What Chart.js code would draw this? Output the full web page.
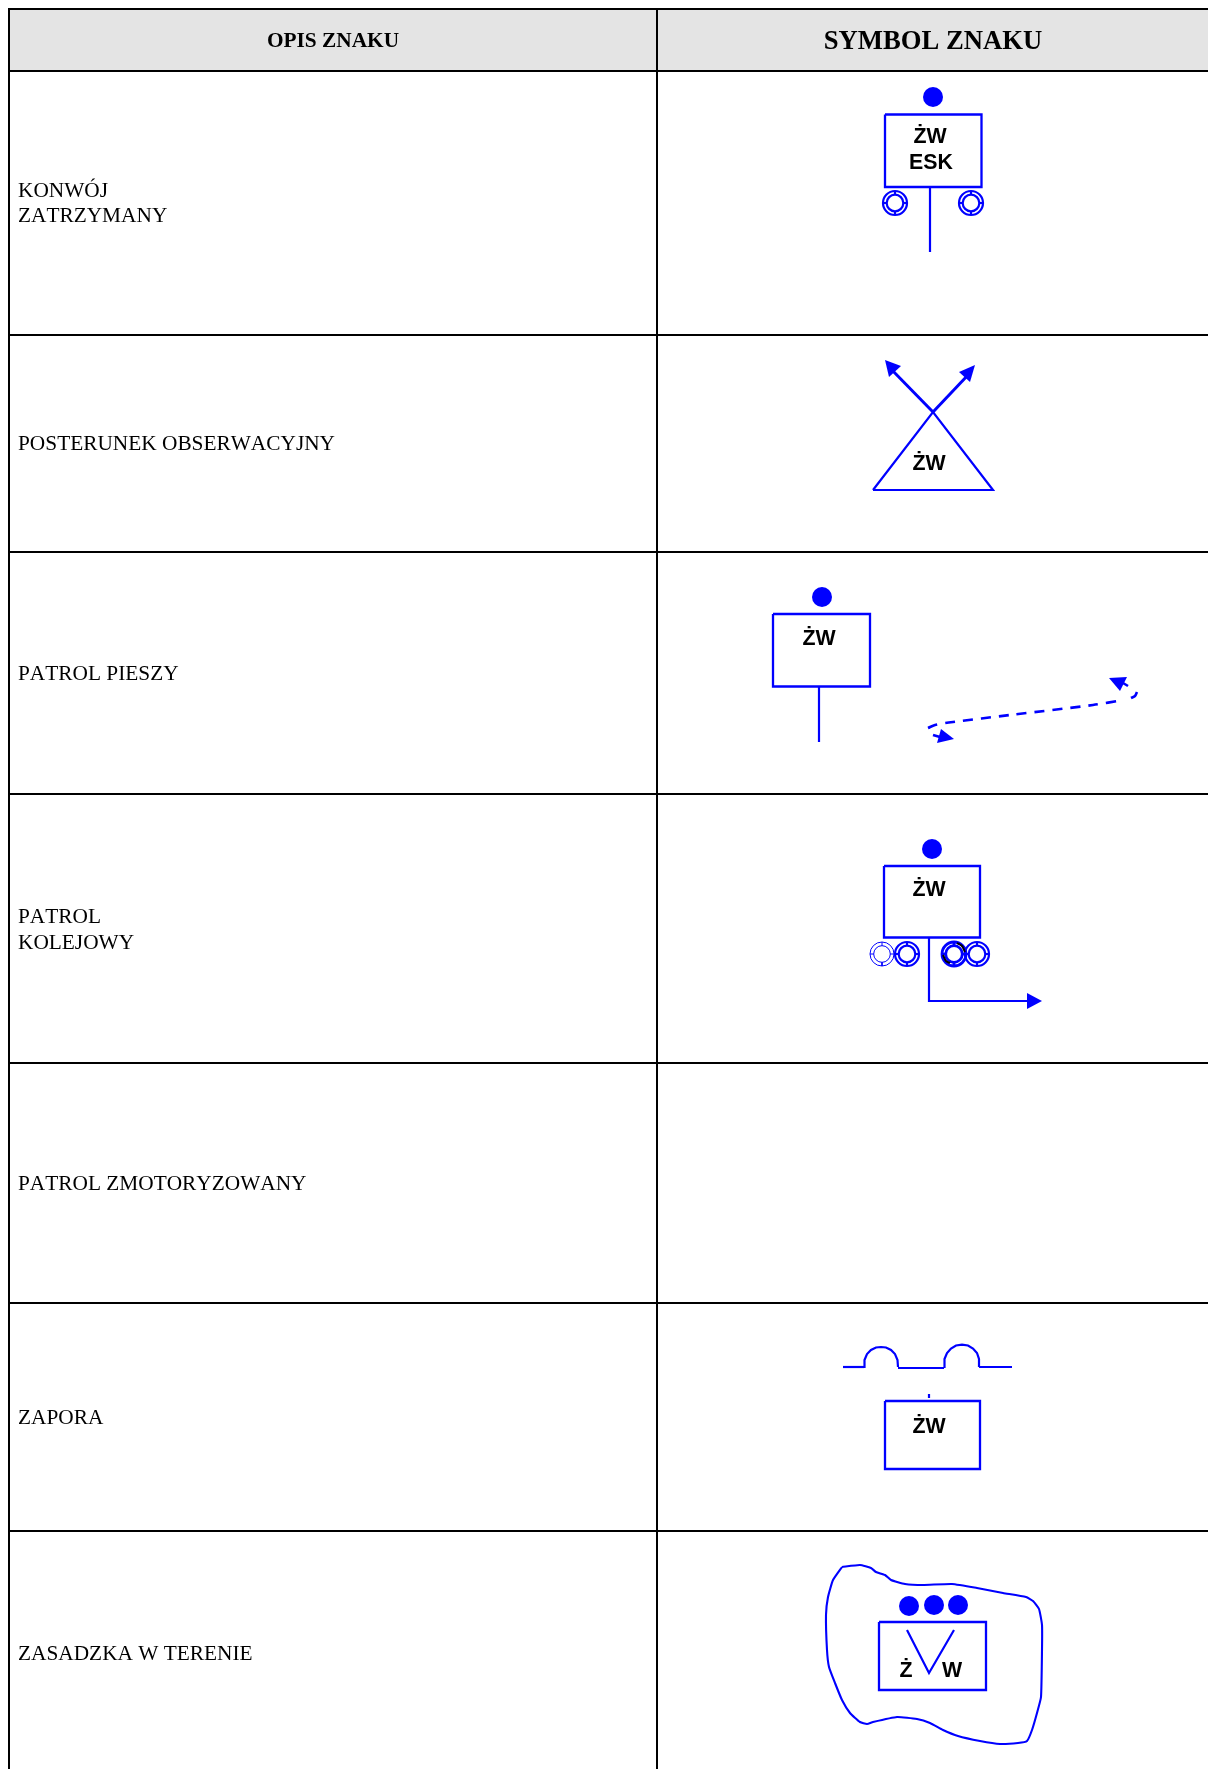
<!DOCTYPE html>
<html lang="pl">
<head>
<meta charset="utf-8">
<title>Opis znaku</title>
<script src="https://cdn.jsdelivr.net/npm/chart.js@4/dist/chart.umd.min.js"></script>
<style>
  html, body { margin: 0; padding: 0; background: #fff; }
  canvas { display: block; }
</style>
</head>
<body>
<canvas id="chart" width="1208" height="1769"></canvas>
<script>
// table
const gridRows = [9, 71, 335, 552, 794, 1063, 1303, 1531];
const gridCols = [9, 657];
const headerLabels = ['OPIS ZNAKU', 'SYMBOL ZNAKU'];
const rowLabels = ['KONWÓJ', 'ZATRZYMANY', 'POSTERUNEK OBSERWACYJNY', 'PATROL PIESZY', 'PATROL', 'KOLEJOWY', 'PATROL ZMOTORYZOWANY', 'ZAPORA', 'ZASADZKA W TERENIE'];
const rowLabelY = [197, 222, 450, 680, 923, 949, 1190, 1424, 1660];

// symbol labels
const symbolLabels = ['ŻW', 'ESK', 'ŻW', 'ŻW', 'ŻW', 'ŻW', 'Ż', 'W'];
const symbolLabelX = [930, 931, 929, 819, 929, 929, 906, 952];
const symbolLabelY = [143, 169, 470, 645, 896, 1433, 1677, 1677];

// filled dots
const dots = [[933, 97], [822, 597], [932, 849], [909, 1606], [934, 1605], [958, 1605]];

// boxes: left, top, right, bottom
const boxes = [[885, 114.5, 981.5, 187], [773, 614, 870, 686.5], [884, 866, 980, 937.5], [885, 1401, 980, 1469], [879, 1622, 986, 1690]];

// wheels
const wheelsNormal = [[895, 203], [971, 203], [907, 954], [977, 954]];
const wheelsThin = [[882, 954]];
const wheelsHeavy = [[954, 954]];

// plain lines
const polylines = [
  [[930, 187], [930, 252]],
  [[873, 490], [993, 490], [933, 412], [873, 490]],
  [[819, 687], [819, 742]],
  [[929, 938], [929, 1001], [1028, 1001]],
  [[843, 1367], [864, 1367]],
  [[898, 1368], [944, 1368]],
  [[979, 1367], [1012, 1367]],
  [[929, 1394], [929, 1398]],
  [[907, 1630], [929, 1673], [954, 1630]]
];
const arrowShafts = [[[933, 412], [890, 368]], [[933, 412], [968, 375]]];
const arrowHeads = [
  [[885, 360], [901, 366], [889, 377]],
  [[975, 365], [959, 372], [970, 382]],
  [[1109, 678], [1127, 677], [1120, 691]],
  [[954, 739], [941, 729], [937, 743]],
  [[1027, 993], [1027, 1009], [1042, 1001]]
];
const arches = [
  [[864, 1367], [864.5, 1360], [867, 1354], [871, 1350], [876, 1347.5], [881, 1347], [886, 1347.5], [891, 1350], [895, 1354], [897.5, 1360], [898, 1367]],
  [[944, 1367], [944.5, 1359], [947, 1353], [951, 1348.5], [956, 1345.5], [962, 1344.7], [968, 1345.5], [973, 1348.5], [977, 1353], [979, 1359], [979, 1367]]
];
const dashedPath = [[928, 728], [935, 725], [953, 722], [1010, 715], [1093, 705], [1123, 700]];
const dashStubs = [[[1128, 686], [1123, 683]], [[933, 735], [940, 737]], [[1131, 698], [1135, 696], [1137, 692]]];
const blackArcs = [[[957, 943], [962, 946], [965, 952]], [[943, 955], [946, 961], [950, 963]]];
const terrainOutline = [
  [842, 1567], [860, 1565], [871, 1568], [876, 1572], [885, 1575], [891, 1580], [905, 1584], [923, 1585],
  [952, 1584], [977, 1588], [1003, 1593], [1026, 1597], [1033, 1601], [1039, 1609], [1042, 1625], [1042, 1650],
  [1041, 1697], [1037, 1713], [1032, 1730], [1027, 1741], [1018, 1743], [1000, 1744], [980, 1741], [958, 1736],
  [943, 1730], [930, 1723], [917, 1719], [897, 1717], [873, 1722], [867, 1724], [860, 1722], [850, 1713],
  [842, 1700], [835, 1683], [829, 1667], [827, 1650], [826, 1615], [828, 1597], [833, 1580], [842, 1567]
];

const BLUE = '#0000ff';
const toXY = pts => pts.map(p => ({ x: p[0], y: p[1] }));

function lineSet(pts, color, width, extra) {
  return Object.assign({
    data: toXY(pts),
    showLine: true,
    borderColor: color,
    borderWidth: width,
    pointRadius: 0,
    fill: false
  }, extra || {});
}

function shapeSet(pts, color, extra) {
  return Object.assign({
    data: toXY(pts),
    showLine: true,
    borderColor: color,
    borderWidth: 0,
    backgroundColor: color,
    pointRadius: 0,
    fill: 'shape'
  }, extra || {});
}

function wheelSets(centers, width) {
  const sets = [12, 8.3].map(r => ({
    data: toXY(centers),
    showLine: false,
    pointStyle: 'circle',
    pointRadius: r,
    pointBorderWidth: width,
    pointBorderColor: BLUE,
    pointBackgroundColor: 'rgba(0,0,0,0)'
  }));
  centers.forEach(c => {
    [[0, -1], [0, 1], [-1, 0], [1, 0]].forEach(d => {
      sets.push(lineSet([[c[0] + d[0] * 8.3, c[1] + d[1] * 8.3], [c[0] + d[0] * 12, c[1] + d[1] * 12]], BLUE, width));
    });
  });
  return sets;
}

const datasets = [];

// header background first, under everything else
datasets.push(shapeSet([[9, 9], [1208, 9], [1208, 71], [9, 71]], '#e4e4e4', { order: 10 }));
gridRows.forEach(y => datasets.push(lineSet([[gridCols[0] - 1, y], [1208, y]], '#000', 2)));
gridCols.forEach(x => datasets.push(lineSet([[x, gridRows[0] - 1], [x, 1769]], '#000', 2)));

datasets.push({
  data: toXY(dots),
  showLine: false,
  pointStyle: 'circle',
  pointRadius: 10,
  pointBorderWidth: 0,
  pointBackgroundColor: BLUE
});
boxes.forEach(b => datasets.push(lineSet([[b[0], b[1]], [b[2], b[1]], [b[2], b[3]], [b[0], b[3]], [b[0], b[1]]], BLUE, 2.3)));
polylines.forEach(p => datasets.push(lineSet(p, BLUE, 2.2)));
arrowShafts.forEach(p => datasets.push(lineSet(p, BLUE, 3)));
arrowHeads.forEach(p => datasets.push(shapeSet(p, BLUE)));
arches.forEach(p => datasets.push(lineSet(p, BLUE, 2.2)));
datasets.push(lineSet(dashedPath, BLUE, 2.6, { tension: 0.3, borderDash: [10, 8] }));
dashStubs.forEach(p => datasets.push(lineSet(p, BLUE, 2.6, { tension: 0.3 })));
datasets.push(lineSet(terrainOutline, BLUE, 2.1, { tension: 0.15 }));
wheelSets(wheelsNormal, 2.2).forEach(s => datasets.push(s));
wheelSets(wheelsThin, 1).forEach(s => datasets.push(s));
wheelSets(wheelsHeavy, 2.8).forEach(s => datasets.push(s));
blackArcs.forEach(p => datasets.push(lineSet(p, '#000', 2, { tension: 0.3, order: -1 })));

// all the text of the table goes through the scales as well
const tableText = {
  id: 'tableText',
  afterDatasetsDraw(chart) {
    const { ctx, scales: { x, y } } = chart;
    ctx.save();
    ctx.fillStyle = '#000';
    ctx.textBaseline = 'alphabetic';

    ctx.textAlign = 'center';
    ctx.font = 'bold 21.33px "Liberation Serif"';
    ctx.fillText(headerLabels[0], x.getPixelForValue(333), y.getPixelForValue(47));
    ctx.font = 'bold 26.67px "Liberation Serif"';
    ctx.fillText(headerLabels[1], x.getPixelForValue(933), y.getPixelForValue(49));

    ctx.textAlign = 'left';
    ctx.font = '21.33px "Liberation Serif"';
    ctx.fontKerning = 'none';
    rowLabels.forEach((t, i) => ctx.fillText(t, x.getPixelForValue(18), y.getPixelForValue(rowLabelY[i])));
    ctx.fontKerning = 'auto';

    ctx.textAlign = 'center';
    ctx.font = 'bold 21.33px "Liberation Sans"';
    symbolLabels.forEach((t, i) => ctx.fillText(t, x.getPixelForValue(symbolLabelX[i]), y.getPixelForValue(symbolLabelY[i])));
    ctx.restore();
  }
};

new Chart(document.getElementById('chart'), {
  type: 'scatter',
  data: { datasets },
  options: {
    responsive: false,
    animation: false,
    devicePixelRatio: 1,
    layout: { padding: 0, autoPadding: false },
    plugins: { legend: { display: false }, tooltip: { enabled: false }, title: { display: false } },
    scales: {
      x: { type: 'linear', min: 0, max: 1208, display: false },
      y: { type: 'linear', min: 0, max: 1769, reverse: true, display: false }
    }
  },
  plugins: [tableText]
});
</script>
</body>
</html>
